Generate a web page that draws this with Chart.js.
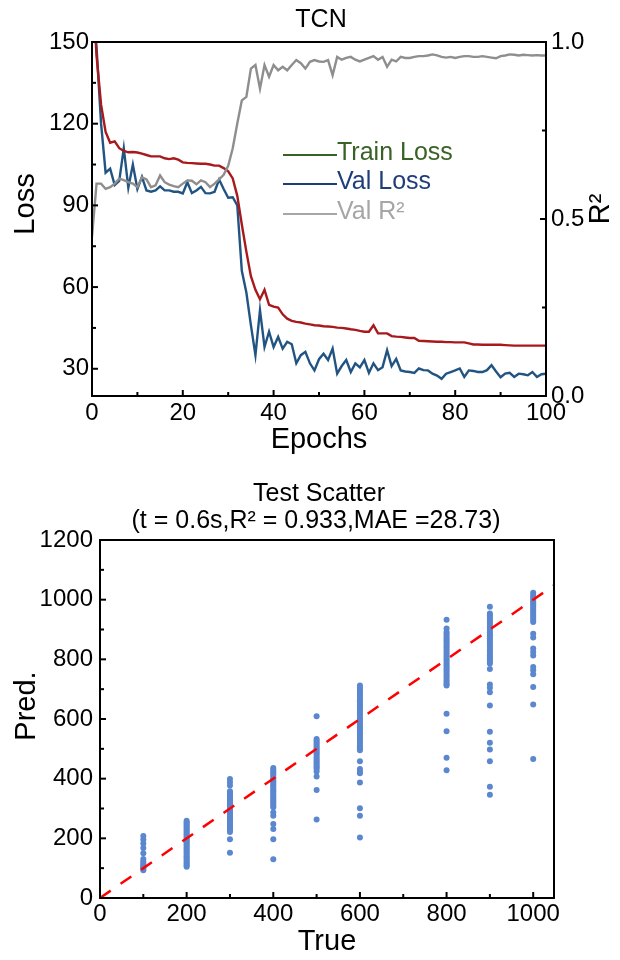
<!DOCTYPE html>
<html>
<head>
<meta charset="utf-8">
<script src="https://cdn.jsdelivr.net/npm/chart.js@4.4.1/dist/chart.umd.min.js"></script>
<style>
  html, body { margin: 0; padding: 0; background: #fff; }
  canvas { display: block; }
</style>
</head>
<body>
<canvas id="lossChart" width="620" height="460"></canvas>
<canvas id="scatterChart" width="620" height="500"></canvas>
<script>
// training curves, one value per epoch (0..100)
const trainLoss = [175, 145, 127, 117, 113, 113.5, 111, 110, 109.5, 109.6,
  109.4, 109, 108.5, 108, 108, 108, 107.3, 107, 107.3, 106.8,
  105.8, 105.6, 105.5, 105.4, 105.3, 105.3, 105, 104.6, 104.6, 103.7,
  102.5, 99.9, 93.5, 83, 73, 64, 59, 55.5, 59, 53.5,
  52.8, 52.5, 50, 48.4, 47.6, 47.2, 47, 46.6, 46.3, 46,
  45.9, 45.6, 45.5, 45.4, 45.1, 45, 44.8, 44.5, 44.3, 43.9,
  43.6, 43.6, 46, 43, 43, 43, 42, 41.8, 41.7, 41.5,
  41.3, 41.3, 40.3, 40.2, 40.1, 40, 39.9, 39.9, 39.8, 39.8,
  39.7, 39.7, 39.7, 39.3, 38.9, 38.9, 38.8, 38.8, 38.8, 38.8,
  38.8, 38.7, 38.6, 38.5, 38.5, 38.5, 38.5, 38.5, 38.5, 38.5, 38.5]
const valLoss = [165, 148, 120, 102, 103.5, 97.5, 99, 111, 96.5, 105,
  96, 100.5, 95.5, 95, 95.5, 97, 95.5, 95.5, 95, 95,
  94.4, 98.5, 94.5, 95.5, 96.8, 94.5, 94.4, 95, 99.5, 96,
  92.8, 93, 90, 66, 58, 46, 35, 51.5, 38, 43.6,
  38, 41.7, 37.4, 39.9, 39, 32, 35, 36.2, 32, 29.4,
  33.5, 35.5, 33.2, 37.4, 28.2, 31, 33.2, 28.8, 32, 30.5,
  33.2, 28.5, 32, 29.5, 30.6, 36.8, 31, 33.6, 29.4, 29,
  28.8, 28.5, 30.1, 29.5, 29.4, 28.2, 27.5, 26.3, 28.2, 28.8,
  29.4, 30.1, 27, 29.4, 29.2, 28.8, 28.8, 29.5, 31.3, 29,
  26.9, 28.2, 28.5, 27, 28.2, 28, 27.6, 28.8, 27, 28, 28.2]
const valR2 = [0.45, 0.6, 0.6, 0.585, 0.59, 0.6, 0.614, 0.61, 0.604, 0.6,
  0.59, 0.618, 0.612, 0.59, 0.595, 0.623, 0.604, 0.597, 0.593, 0.59,
  0.6, 0.609, 0.608, 0.598, 0.609, 0.604, 0.59, 0.6, 0.612, 0.625,
  0.65, 0.7, 0.77, 0.835, 0.845, 0.925, 0.935, 0.868, 0.935, 0.902,
  0.935, 0.92, 0.93, 0.92, 0.935, 0.949, 0.94, 0.925, 0.944, 0.949,
  0.945, 0.944, 0.949, 0.906, 0.958, 0.95, 0.955, 0.958, 0.95, 0.945,
  0.95, 0.955, 0.96, 0.95, 0.958, 0.93, 0.95, 0.945, 0.958, 0.955,
  0.955, 0.958, 0.96, 0.96, 0.962, 0.965, 0.962, 0.958, 0.956, 0.958,
  0.955, 0.958, 0.96, 0.96, 0.958, 0.958, 0.96, 0.958, 0.956, 0.954,
  0.96, 0.962, 0.965, 0.964, 0.962, 0.964, 0.963, 0.962, 0.963, 0.962, 0.962]
const epochs = trainLoss.map((_, i) => i)

// test set: true value -> predictions
const trueValues = [100, 200, 300, 400, 500, 600, 800, 900, 1000]
const pred100 = [208, 196, 183, 168, 150, 131, 122, 116, 110, 105, 101, 97, 93]
const pred200 = [259, 254, 249, 244, 239, 234, 228, 223, 218, 213, 208, 203, 197, 192, 187, 182,
  177, 171, 166, 161, 156, 151, 145, 140, 135, 130, 124, 119, 114, 109, 105]
const pred300 = [399, 388, 377, 358, 352, 346, 340, 334, 328, 322, 316, 311, 305, 299, 293, 287,
  281, 275, 269, 263, 257, 251, 245, 239, 233, 227, 221, 197, 152]
const pred400 = [436, 430, 424, 418, 412, 406, 400, 394, 388, 382, 376, 370, 364, 358, 352, 346,
  340, 334, 328, 322, 316, 310, 304, 287, 276, 248, 231, 197, 130]
const pred500 = [609, 533, 527, 521, 515, 509, 503, 497, 491, 485, 479, 473, 467, 461, 455, 449,
  443, 438, 432, 424, 407, 362, 263]
const pred600 = [712, 705, 698, 691, 684, 677, 670, 663, 656, 649, 642, 635, 628, 621, 614, 607,
  600, 593, 586, 579, 572, 565, 558, 551, 544, 537, 530, 523, 516, 509, 502, 495,
  458, 432, 424, 418, 387, 301, 276, 203]
const pred800 = [933, 903, 892, 885, 878, 871, 864, 857, 850, 843, 836, 829, 822, 815, 808, 801,
  794, 787, 780, 773, 766, 759, 752, 745, 738, 731, 724, 717, 712, 618, 559, 470, 428]
const pred900 = [976, 954, 947, 940, 933, 926, 919, 912, 905, 898, 891, 884, 877, 870, 863, 856,
  849, 842, 835, 828, 821, 814, 807, 800, 793, 786, 768, 716, 705, 690, 645, 557,
  520, 498, 458, 373, 346]
const pred1000 = [1023, 1016, 1009, 1002, 995, 988, 981, 974, 967, 960, 953, 946, 939, 932, 925,
  886, 873, 836, 825, 813, 774, 763, 750, 707, 649, 466]
const predColumns = [pred100, pred200, pred300, pred400, pred500, pred600, pred800, pred900, pred1000]
const diagonal = [0, 1048]

const FONT = "'Liberation Sans', Arial, sans-serif"
Chart.defaults.font.family = FONT
Chart.defaults.color = '#000'

// frame, inward tick marks and free text (titles, axis names, legend)
const decor = {
  id: 'decor',
  afterDraw(chart, args, opts) {
    const { ctx, chartArea: a } = chart
    ctx.save()
    ctx.strokeStyle = '#000'
    ctx.lineWidth = 2
    ctx.strokeRect(a.left, a.top, a.right - a.left, a.bottom - a.top)
    for (const m of opts.marks || []) {
      const s = chart.scales[m.axis]
      const draw = (v, len) => {
        const p = s.getPixelForValue(v)
        ctx.beginPath()
        if (m.side === 'bottom') { ctx.moveTo(p, a.bottom); ctx.lineTo(p, a.bottom - len) }
        if (m.side === 'left') { ctx.moveTo(a.left, p); ctx.lineTo(a.left + len, p) }
        if (m.side === 'right') { ctx.moveTo(a.right, p); ctx.lineTo(a.right - len, p) }
        ctx.stroke()
      }
      m.major.forEach(v => draw(v, 6))
      m.minor.forEach(v => draw(v, 4))
    }
    for (const t of opts.texts || []) {
      ctx.save()
      ctx.translate(t.x, t.y)
      if (t.rot) ctx.rotate(t.rot)
      ctx.font = `${t.size}px ${FONT}`
      ctx.fillStyle = t.color || '#000'
      ctx.textAlign = t.align || 'center'
      ctx.textBaseline = 'middle'
      ctx.fillText(t.text, 0, 0)
      ctx.restore()
    }
    for (const l of opts.legend || []) {
      ctx.strokeStyle = l.color
      ctx.lineWidth = 2
      ctx.beginPath()
      ctx.moveTo(l.x, l.y + 2)
      ctx.lineTo(l.x + 54, l.y + 2)
      ctx.stroke()
      ctx.font = `25px ${FONT}`
      ctx.fillStyle = l.color
      ctx.textAlign = 'left'
      ctx.textBaseline = 'middle'
      ctx.fillText(l.text, l.x + 54, l.y)
    }
    ctx.restore()
  }
}

const tickFont = { size: 24 }

new Chart(document.getElementById('lossChart'), {
  type: 'line',
  data: {
    labels: epochs,
    datasets: [
      { label: 'Train Loss', data: trainLoss, borderColor: '#a8191c', yAxisID: 'y', order: 1 },
      { label: 'Val Loss', data: valLoss, borderColor: '#215482', yAxisID: 'y', order: 2 },
      { label: 'Val R²', data: valR2, borderColor: '#8e8e8e', yAxisID: 'y1', order: 0 }
    ]
  },
  options: {
    responsive: false,
    animation: false,
    layout: { padding: { top: 42, left: 0, right: 0, bottom: 0 } },
    elements: { point: { radius: 0 }, line: { borderWidth: 2.4, tension: 0 } },
    plugins: {
      legend: { display: false },
      tooltip: { enabled: false },
      decor: {
        marks: [
          { axis: 'x', side: 'bottom', major: [0, 20, 40, 60, 80, 100], minor: [10, 30, 50, 70, 90] },
          { axis: 'y', side: 'left', major: [30, 60, 90, 120, 150], minor: [45, 75, 105, 135] },
          { axis: 'y1', side: 'right', major: [0, 0.5, 1], minor: [0.25, 0.75] }
        ],
        texts: [
          { text: 'TCN', x: 321, y: 20, size: 25 },
          { text: 'Loss', x: 26, y: 204, size: 29, rot: -Math.PI / 2 },
          { text: 'Epochs', x: 319, y: 440, size: 29 },
          { text: 'R²', x: 601, y: 209, size: 29, rot: -Math.PI / 2 }
        ],
        legend: [
          { text: 'Train Loss', color: '#3a6226', x: 283, y: 153 },
          { text: 'Val Loss', color: '#1f3e78', x: 283, y: 182 },
          { text: 'Val R²', color: '#a6a6a6', x: 283, y: 212 }
        ]
      }
    },
    scales: {
      x: {
        type: 'linear', min: 0, max: 100,
        grid: { display: false, drawTicks: false },
        border: { display: true, color: '#000', width: 2 },
        ticks: { stepSize: 20, font: tickFont, padding: 3, maxRotation: 0 },
        afterFit: s => { s.height = 64 }
      },
      y: {
        position: 'left', min: 20, max: 150,
        grid: { display: false, drawTicks: false },
        border: { display: true, color: '#000', width: 2 },
        ticks: { font: tickFont, padding: 3 },
        afterBuildTicks: s => { s.ticks = [30, 60, 90, 120, 150].map(value => ({ value })) },
        afterFit: s => { s.width = 92 }
      },
      y1: {
        position: 'right', min: 0, max: 1,
        grid: { display: false, drawTicks: false },
        border: { display: true, color: '#000', width: 2 },
        ticks: { stepSize: 0.5, font: tickFont, padding: 5, callback: v => v.toFixed(1) },
        afterFit: s => { s.width = 74 }
      }
    }
  },
  plugins: [decor]
})

const scatterPoints = trueValues.flatMap((t, i) => predColumns[i].map(p => ({ x: t, y: p })))

new Chart(document.getElementById('scatterChart'), {
  type: 'scatter',
  data: {
    datasets: [
      {
        type: 'line',
        data: diagonal.map(v => ({ x: v, y: v })),
        borderColor: '#ff0000', borderWidth: 2.5, borderDash: [13, 12],
        pointRadius: 0, order: 0
      },
      {
        data: scatterPoints,
        backgroundColor: '#5b87cf', borderWidth: 0, pointRadius: 3, order: 1
      }
    ]
  },
  options: {
    responsive: false,
    animation: false,
    layout: { padding: { top: 80, left: 0, right: 66, bottom: 0 } },
    plugins: {
      legend: { display: false },
      tooltip: { enabled: false },
      decor: {
        marks: [
          { axis: 'x', side: 'bottom', major: [0, 200, 400, 600, 800, 1000], minor: [100, 300, 500, 700, 900] },
          { axis: 'y', side: 'left', major: [0, 200, 400, 600, 800, 1000, 1200], minor: [100, 300, 500, 700, 900, 1100] }
        ],
        texts: [
          { text: 'Test Scatter', x: 319, y: 34, size: 25 },
          { text: '(t = 0.6s,R² = 0.933,MAE =28.73)', x: 316, y: 61, size: 25 },
          { text: 'Pred.', x: 27, y: 246, size: 29, rot: -Math.PI / 2 },
          { text: 'True', x: 327, y: 482, size: 29 }
        ]
      }
    },
    scales: {
      x: {
        type: 'linear', min: 0, max: 1048,
        grid: { display: false, drawTicks: false },
        border: { display: true, color: '#000', width: 2 },
        ticks: { font: tickFont, padding: 2, maxRotation: 0, callback: v => String(v) },
        afterBuildTicks: s => { s.ticks = [0, 200, 400, 600, 800, 1000].map(value => ({ value })) },
        afterFit: s => { s.height = 62 }
      },
      y: {
        min: 0, max: 1200,
        grid: { display: false, drawTicks: false },
        border: { display: true, color: '#000', width: 2 },
        ticks: { stepSize: 200, font: tickFont, padding: 7, callback: v => String(v) },
        afterFit: s => { s.width = 100 }
      }
    }
  },
  plugins: [decor]
})
</script>
</body>
</html>
